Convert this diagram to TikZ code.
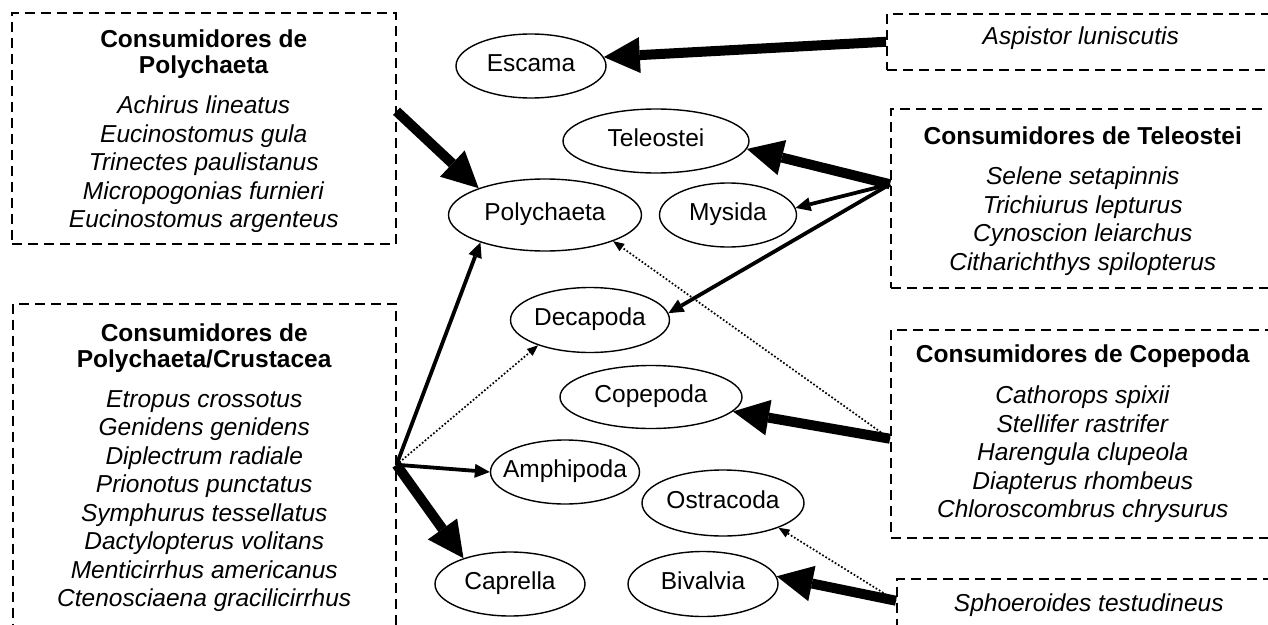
\documentclass[tikz,border=0pt]{standalone}
\usepackage{fontspec}
\setmainfont{Liberation Sans}
\usetikzlibrary{shapes.geometric, arrows.meta}
\newcommand{\fsTaxon}{\fontsize{24.5}{28.5}\selectfont}
\newcommand{\fsGroup}{\fontsize{24.5}{28.5}\selectfont}
\newcommand{\nm}[1]{\makebox[0pt]{#1}}
\newcommand{\spc}[1]{\textit{#1}}
\newcommand{\grp}[1]{\textbf{#1}}
\newcommand{\lift}{\rule{0pt}{24pt}}

\begin{document}
\begin{tikzpicture}[x=1pt, y=-1pt,
  taxon/.style={ellipse, draw, line width=1.4pt, inner sep=0pt, text height=17.5pt, text depth=6pt, font=\fsTaxon},
  group/.style={draw, dash pattern=on 10pt off 6pt, line width=1.5pt, inner sep=0pt, align=center, anchor=north west, font=\fsGroup},
  heavy/.style={line width=10pt, -{Triangle[length=36pt, width=36pt, line width=0pt]}},
  medium/.style={line width=3.8pt, -{Triangle[length=15pt, width=14pt, line width=0pt]}},
  weak/.style={line width=1.7pt, dash pattern=on 1.7pt off 2pt, -{Triangle[length=11pt, width=9pt, line width=0pt]}}]
  \useasboundingbox (0,0) rectangle (1268,624);
  \clip (0,0) rectangle (1268,624);
  \fill[white] (0,0) rectangle (1268,624);

  % prey taxa
  \node[taxon, minimum width=150pt, minimum height=64pt] (esc) at (531,66) {\nm{Escama}};
  \node[taxon, minimum width=186pt, minimum height=64pt] (tel) at (656,141) {\nm{Teleostei}};
  \node[taxon, minimum width=193pt, minimum height=72pt] (poly) at (545,215) {\nm{Polychaeta}};
  \node[taxon, minimum width=137pt, minimum height=64pt] (mys) at (728,215) {\nm{Mysida}};
  \node[taxon, minimum width=159pt, minimum height=65pt] (dec) at (590,320) {\nm{Decapoda}};
  \node[taxon, minimum width=182pt, minimum height=63pt] (cop) at (651,397) {\nm{Copepoda}};
  \node[taxon, minimum width=149pt, minimum height=64pt] (amp) at (565,472) {\nm{Amphipoda}};
  \node[taxon, minimum width=162pt, minimum height=66pt] (ost) at (723,503) {\nm{Ostracoda}};
  \node[taxon, minimum width=150pt, minimum height=64pt] (cap) at (510,584) {\nm{Caprella}};
  \node[taxon, minimum width=150pt, minimum height=65pt] (biv) at (703,584) {\nm{Bivalvia}};

  % consumer groups
  \node[group, minimum width=384pt, minimum height=231pt] (pbox) at (11,12)
    {\lift\grp{Consumidores de}\\[-2.5pt]\grp{Polychaeta}\\[11.5pt]
     \spc{Achirus lineatus}\\\spc{Eucinostomus gula}\\\spc{Trinectes paulistanus}\\
     \spc{Micropogonias furnieri}\\\spc{Eucinostomus argenteus}};
  \node[group, minimum width=383pt, minimum height=322pt] (cbox) at (12,303)
    {\lift\grp{Consumidores de}\\[-2.5pt]\grp{Polychaeta/Crustacea}\\[11.5pt]
     \spc{Etropus crossotus}\\\spc{Genidens genidens}\\\spc{Diplectrum radiale}\\
     \spc{Prionotus punctatus}\\\spc{Symphurus tessellatus}\\\spc{Dactylopterus volitans}\\
     \spc{Menticirrhus americanus}\\\spc{Ctenosciaena gracilicirrhus}};
  \node[group, minimum width=388pt, minimum height=56pt, text height=17.5pt, text depth=12pt] (abox) at (886,13)
    {\spc{Aspistor luniscutis}};
  \node[group, minimum width=384pt, minimum height=179pt] (tbox) at (890,108)
    {\lift\grp{Consumidores de Teleostei}\\[11.5pt]
     \spc{Selene setapinnis}\\\spc{Trichiurus lepturus}\\\spc{Cynoscion leiarchus}\\
     \spc{Citharichthys spilopterus}};
  \node[group, minimum width=384pt, minimum height=208pt] (cpbox) at (890,329)
    {\grp{Consumidores de Copepoda}\\[13pt]
     \spc{Cathorops spixii}\\\spc{Stellifer rastrifer}\\\spc{Harengula clupeola}\\
     \spc{Diapterus rhombeus}\\\spc{Chloroscombrus chrysurus}};
  \node[group, minimum width=384pt, minimum height=56pt, text height=17.5pt, text depth=9pt] (sbox) at (896,578)
    {\spc{Sphoeroides testudineus}};

  \coordinate (pout) at ([yshift=17pt]pbox.east);
  \coordinate (tout) at ([yshift=14pt]tbox.west);
  \coordinate (cpout) at ([yshift=-5pt]cpbox.west);
  \coordinate (sout) at ([yshift=6pt]sbox.west);

  % diet links
  \draw[heavy] (abox.west) -- (esc.7);
  \draw[heavy] (pout) -- (poly.158);
  \draw[heavy] (tout) -- (tel.-5);
  \draw[medium] (tout) -- (mys.6);
  \draw[medium] (tout) -- (dec.5);
  \draw[heavy] (cpout) -- (cop.-10);
  \draw[weak] (cpout) -- (poly.-21);
  \draw[heavy] (sout) -- (biv.6);
  \draw[weak] (sout) -- (ost.-24);
  \draw[medium] (cbox.east) -- (poly.203);
  \draw[weak] (cbox.east) -- (dec.206);
  \draw[medium] (cbox.east) -- (amp.west);
  \draw[heavy] (cbox.east) -- (cap.151);
\end{tikzpicture}
\end{document}
